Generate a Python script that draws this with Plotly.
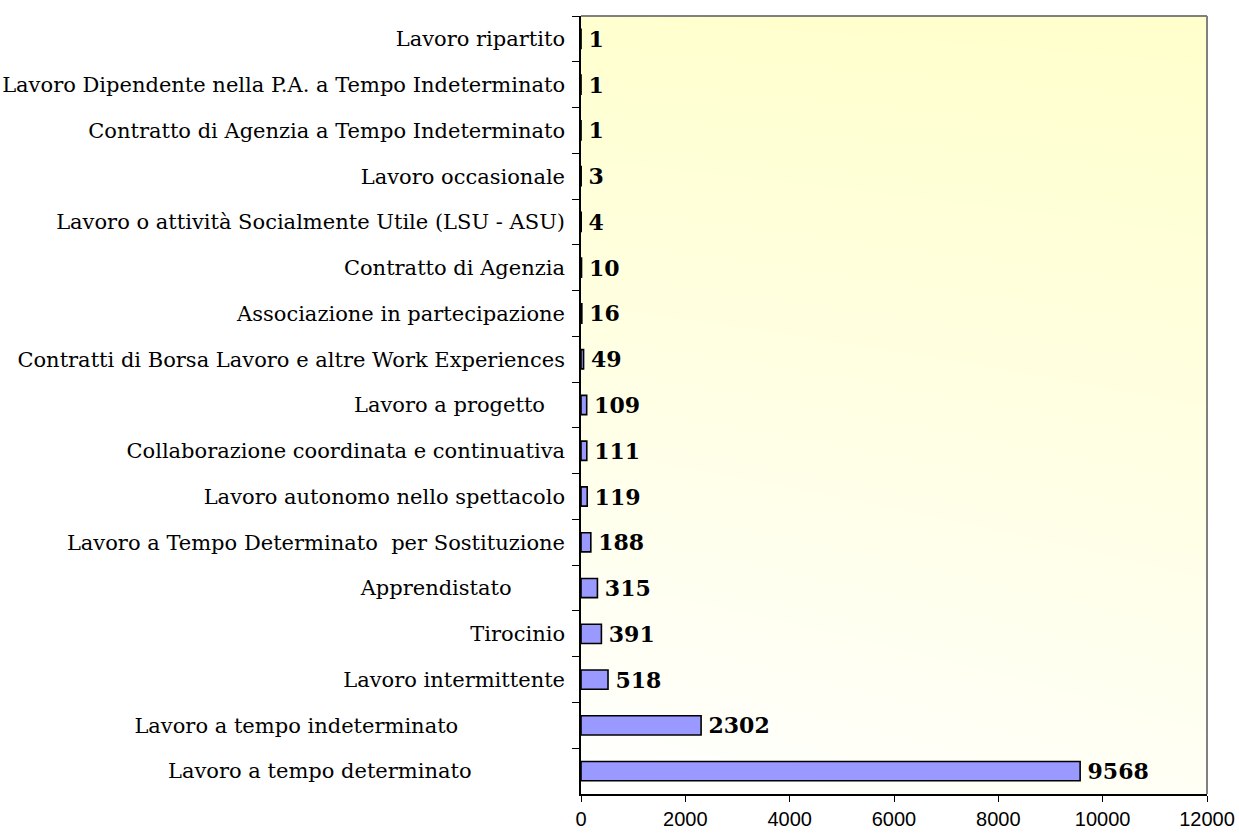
import plotly.graph_objects as go

NB = "\u00a0"
categories = [
    "Lavoro ripartito",
    "Lavoro Dipendente nella P.A. a Tempo Indeterminato",
    "Contratto di Agenzia a Tempo Indeterminato",
    "Lavoro occasionale",
    "Lavoro o attività Socialmente Utile (LSU - ASU)",
    "Contratto di Agenzia",
    "Associazione in partecipazione",
    "Contratti di Borsa Lavoro e altre Work Experiences",
    "Lavoro a progetto" + NB * 3,
    "Collaborazione coordinata e continuativa",
    "Lavoro autonomo nello spettacolo",
    "Lavoro a Tempo Determinato" + NB * 2 + "per Sostituzione",
    "Apprendistato" + NB * 8,
    "Tirocinio",
    "Lavoro intermittente",
    "Lavoro a tempo indeterminato" + NB * 16,
    "Lavoro a tempo determinato" + NB * 14,
]
values = [1, 1, 1, 3, 4, 10, 16, 49, 109, 111, 119, 188, 315, 391, 518, 2302, 9568]
x_ticks = [0, 2000, 4000, 6000, 8000, 10000, 12000]

# background gradient corners (0 = white, 1 = light yellow)
bg_z = [[0.0, 0.2], [0.95, 1.0]]  # rows: bottom, top ; cols: left, right

fig = go.Figure()
fig.add_trace(go.Heatmap(
    z=bg_z, x=[0, 1], y=[0, 1], zsmooth="best",
    colorscale=[[0, "#FFFFFF"], [1, "#FFFFCC"]], zmin=0, zmax=1,
    showscale=False, hoverinfo="skip", xaxis="x", yaxis="y",
))
fig.add_trace(go.Bar(
    x=values, y=categories, orientation="h",
    marker=dict(color="#9999FF", line=dict(color="black", width=1.6)),
    width=0.42,
    text=["\u2009" + str(v) for v in values], textposition="outside", cliponaxis=False,
    constraintext="none",
    textfont=dict(family="DejaVu Serif", size=22, color="black", weight="bold"),
    xaxis="x2", yaxis="y2",
))

fig.update_layout(
    width=1239, height=834,
    margin=dict(l=581, r=32, t=16, b=40, autoexpand=False),
    paper_bgcolor="white", plot_bgcolor="white",
    showlegend=False,
    xaxis=dict(range=[0, 1], visible=False, fixedrange=True),
    yaxis=dict(range=[0, 1], visible=False, fixedrange=True),
    xaxis2=dict(
        overlaying="x", anchor="y2", side="bottom", automargin=False,
        range=[0, 12000], tickvals=x_ticks, ticktext=[str(t) for t in x_ticks],
        showgrid=False, zeroline=False,
        showline=True, linecolor="black", linewidth=1.5,
        ticks="outside", ticklen=6, tickcolor="black", tickwidth=1,
        tickfont=dict(family="Liberation Sans", size=20, color="black"),
    ),
    yaxis2=dict(
        overlaying="y", anchor="x2", side="left", automargin=False,
        autorange="reversed", type="category",
        showgrid=False, zeroline=False,
        showline=True, linecolor="black", linewidth=1.5,
        ticks="outside", ticklen=7, tickcolor="black", tickwidth=1,
        tickson="boundaries", ticklabelstandoff=10,
        tickfont=dict(family="DejaVu Serif", size=21, color="black"),
    ),
    shapes=[
        dict(type="line", xref="paper", yref="paper", x0=0, x1=1, y0=1, y1=1,
             line=dict(color="#808080", width=2)),
        dict(type="line", xref="paper", yref="paper", x0=1, x1=1, y0=0, y1=1,
             line=dict(color="#808080", width=2)),
    ],
)

fig.write_html("out.html", config={"displayModeBar": False},
               post_script="document.body.style.margin='0';")
